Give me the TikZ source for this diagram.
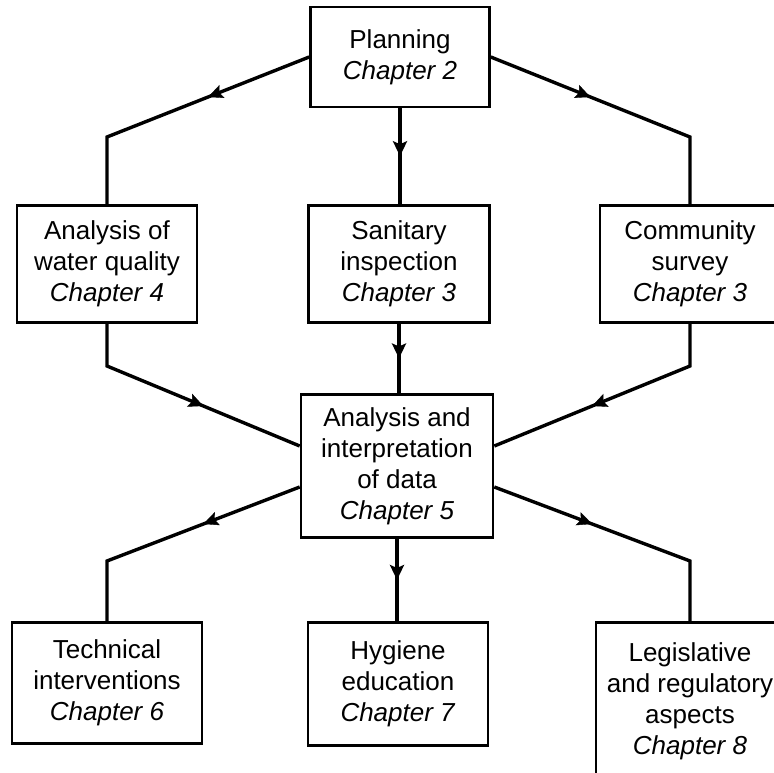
\documentclass[tikz,border=0pt]{standalone}
\usepackage{fontspec}
\setmainfont{Liberation Sans}
\usetikzlibrary{arrows.meta,decorations.markings}
\newcommand{\chapref}[1]{\\\textit{Chapter #1}}
\newcommand{\boxfont}{\fontsize{26}{31}\selectfont}

\begin{document}
\begin{tikzpicture}[x=1pt,y=-1pt,>={Stealth[length=15pt,width=14pt,inset=3pt]},
  box/.style={draw,line width=2.6pt,align=center,inner sep=0pt,font=\boxfont},
  link/.style={line width=3.4pt,line join=miter},
  tipmark/.style={postaction={decorate},
    decoration={markings,mark=at position 0.5 with {\arrow{>}}}}]
\useasboundingbox (0,0) rectangle (773,773);
\node[box,minimum width=179pt,minimum height=100pt] (plan) at (400,57) {Planning\chapref{2}};
\node[box,minimum width=180pt,minimum height=117pt] (water) at (107,264) {Analysis of\\water quality\chapref{4}};
\node[box,minimum width=181pt,minimum height=117pt] (sanit) at (399,264) {Sanitary\\inspection\chapref{3}};
\node[box,minimum width=180pt,minimum height=117pt] (comm) at (690,264) {Community\\survey\chapref{3}};
\node[box,minimum width=192pt,minimum height=143pt] (data) at (397,466) {Analysis and\\interpretation\\of data\chapref{5}};
\node[box,minimum width=190pt,minimum height=121pt] (tech) at (107,683) {Technical\\interventions\chapref{6}};
\node[box,minimum width=180pt,minimum height=123pt] (hyg) at (398,684) {Hygiene\\education\chapref{7}};
\node[box,minimum width=188pt,minimum height=157pt] (legis) at (690,701) {Legislative\\and regulatory\\aspects\chapref{8}};
\coordinate (bendA) at (107,137);
\coordinate (bendB) at (690,137);
\coordinate (bendC) at (107,366);
\coordinate (bendD) at (690,366);
\coordinate (bendE) at (107,561);
\coordinate (bendF) at (690,561);
\coordinate (inL) at ([yshift=20pt]data.west);
\coordinate (inR) at ([yshift=20pt]data.east);
\coordinate (outL) at ([yshift=-21pt]data.west);
\coordinate (outR) at ([yshift=-21pt]data.east);
\foreach \src/\bend/\dst in {plan.west/bendA/water.north,plan.east/bendB/comm.north,
    outL/bendE/tech.north,outR/bendF/legis.north} {
  \draw[link] (\src) -- (\bend) -- (\dst);
  \path[tipmark] (\src) -- (\bend);
}
\foreach \src/\bend/\dst in {water.south/bendC/inL,comm.south/bendD/inR} {
  \draw[link] (\src) -- (\bend) -- (\dst);
  \path[tipmark] (\bend) -- (\dst);
}
\draw[link,tipmark] (plan.south) -- (plan.south |- sanit.north);
\draw[link,tipmark] (sanit.south) -- (sanit.south |- data.north);
\draw[link,tipmark] (data.south) -- (data.south |- hyg.north);
\end{tikzpicture}
\end{document}
